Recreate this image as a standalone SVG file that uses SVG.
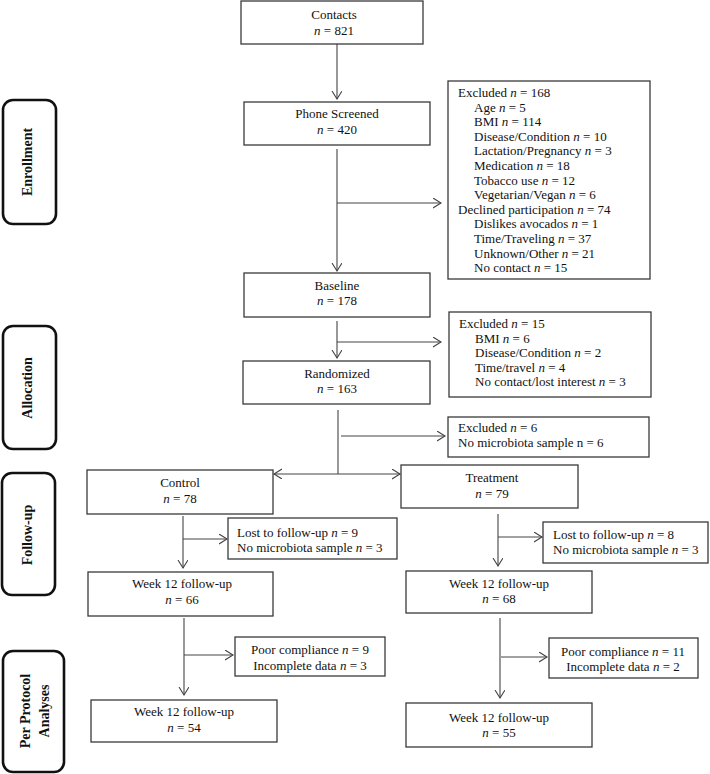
<svg xmlns="http://www.w3.org/2000/svg" width="710" height="774" viewBox="0 0 710 774">
<style>
.box{fill:#fff;stroke:#3a3a3a;stroke-width:1.3}
.lab{fill:#fff;stroke:#111;stroke-width:2.6}
text{font-family:"Liberation Serif","Times New Roman",serif;font-size:13px;fill:#111}
.c{text-anchor:middle}
.b{font-weight:bold;font-size:14px;text-anchor:middle}
.i{font-style:italic}
#connectors line{stroke:#444;stroke-width:1.1;fill:none}
.a{marker-end:url(#arr)}
.d{marker-start:url(#arr);marker-end:url(#arr)}
</style>
<defs>
<marker id="arr" markerUnits="userSpaceOnUse" markerWidth="10" markerHeight="12" refX="8" refY="5" orient="auto-start-reverse">
<path d="M0,0 L8,5 L0,10" fill="none" stroke="#444" stroke-width="1.1"/>
</marker>
</defs>
<rect width="710" height="774" fill="#fff"/>

<g id="connectors">
<line class="a" x1="337" y1="44" x2="337" y2="99"/>
<line class="a" x1="337" y1="149" x2="337" y2="271"/>
<line class="a" x1="337" y1="203" x2="441" y2="203"/>
<line class="a" x1="337" y1="321" x2="337" y2="358"/>
<line class="a" x1="337" y1="342" x2="441" y2="342"/>
<line x1="338" y1="410" x2="338" y2="474"/>
<line class="a" x1="341" y1="436" x2="445" y2="436"/>
<line class="d" x1="274" y1="474" x2="400" y2="474"/>
<line class="a" x1="183" y1="516" x2="183" y2="568"/>
<line class="a" x1="183" y1="539" x2="227" y2="539"/>
<line class="a" x1="498" y1="514" x2="498" y2="566"/>
<line class="a" x1="498" y1="537" x2="542" y2="537"/>
<line class="a" x1="184" y1="618" x2="184" y2="695"/>
<line class="a" x1="184" y1="655" x2="233" y2="655"/>
<line class="a" x1="500" y1="618" x2="500" y2="698"/>
<line class="a" x1="501" y1="657" x2="547" y2="657"/>
</g>

<g id="lab-enrollment"><rect class="lab" x="3" y="100" width="53" height="124" rx="10"/><text class="b" transform="translate(27,162) rotate(-90)" y="5">Enrollment</text></g>
<g id="lab-allocation"><rect class="lab" x="3" y="326" width="53" height="123" rx="10"/><text class="b" transform="translate(27,388) rotate(-90)" y="5">Allocation</text></g>
<g id="lab-followup"><rect class="lab" x="2" y="473" width="53" height="122" rx="10"/><text class="b" transform="translate(27,535) rotate(-90)" y="5">Follow-up</text></g>
<g id="lab-pp"><rect class="lab" x="3" y="651" width="61" height="121" rx="10"/><text class="b" transform="translate(25,711) rotate(-90)" y="5">Per Protocol</text><text class="b" transform="translate(44,711) rotate(-90)" y="5">Analyses</text></g>

<g id="contacts"><rect class="box" x="241" y="1" width="182" height="43"/><text class="c" x="334" y="19">Contacts</text><text class="c" x="334" y="35"><tspan class="i">n</tspan> = 821</text></g>
<g id="phone"><rect class="box" x="244" y="102" width="186" height="43"/><text class="c" x="337" y="118">Phone Screened</text><text class="c" x="337" y="134"><tspan class="i">n</tspan> = 420</text></g>
<g id="excl168"><rect class="box" x="448" y="81" width="202" height="198"/>
<text x="458" y="97">Excluded <tspan class="i">n</tspan> = 168</text>
<text x="474" y="111.6">Age <tspan class="i">n</tspan> = 5</text>
<text x="474" y="126.2">BMI <tspan class="i">n</tspan> = 114</text>
<text x="474" y="140.8">Disease/Condition <tspan class="i">n</tspan> = 10</text>
<text x="474" y="155.4">Lactation/Pregnancy <tspan class="i">n</tspan> = 3</text>
<text x="474" y="170">Medication <tspan class="i">n</tspan> = 18</text>
<text x="474" y="184.6">Tobacco use <tspan class="i">n</tspan> = 12</text>
<text x="474" y="199.2">Vegetarian/Vegan <tspan class="i">n</tspan> = 6</text>
<text x="458" y="213.8">Declined participation <tspan class="i">n</tspan> = 74</text>
<text x="474" y="228.4">Dislikes avocados <tspan class="i">n</tspan> = 1</text>
<text x="474" y="243">Time/Traveling <tspan class="i">n</tspan> = 37</text>
<text x="474" y="257.6">Unknown/Other <tspan class="i">n</tspan> = 21</text>
<text x="474" y="272.2">No contact <tspan class="i">n</tspan> = 15</text>
</g>
<g id="baseline"><rect class="box" x="244" y="273" width="186" height="44"/><text class="c" x="337" y="290">Baseline</text><text class="c" x="337" y="305"><tspan class="i">n</tspan> = 178</text></g>
<g id="excl15"><rect class="box" x="449" y="312" width="202" height="85"/>
<text x="459" y="328">Excluded <tspan class="i">n</tspan> = 15</text>
<text x="475" y="342.5">BMI <tspan class="i">n</tspan> = 6</text>
<text x="475" y="357">Disease/Condition <tspan class="i">n</tspan> = 2</text>
<text x="475" y="371.5">Time/travel <tspan class="i">n</tspan> = 4</text>
<text x="475" y="386">No contact/lost interest <tspan class="i">n</tspan> = 3</text>
</g>
<g id="randomized"><rect class="box" x="243" y="361" width="187" height="43"/><text class="c" x="337" y="378">Randomized</text><text class="c" x="337" y="393"><tspan class="i">n</tspan> = 163</text></g>
<g id="excl6"><rect class="box" x="448" y="417" width="201" height="40"/>
<text x="458" y="432">Excluded <tspan class="i">n</tspan> = 6</text>
<text x="458" y="447">No microbiota sample n = 6</text>
</g>
<g id="control"><rect class="box" x="87" y="470" width="186" height="44"/><text class="c" x="180" y="487">Control</text><text class="c" x="180" y="503"><tspan class="i">n</tspan> = 78</text></g>
<g id="treatment"><rect class="box" x="401" y="465" width="177" height="43"/><text class="c" x="492" y="482">Treatment</text><text class="c" x="492" y="498"><tspan class="i">n</tspan> = 79</text></g>
<g id="lost-c"><rect class="box" x="228" y="518" width="169" height="41"/><text x="237" y="537">Lost to follow-up <tspan class="i">n</tspan> = 9</text><text x="237" y="552">No microbiota sample <tspan class="i">n</tspan> = 3</text></g>
<g id="lost-t"><rect class="box" x="543" y="522" width="165" height="41"/><text x="553" y="538.5">Lost to follow-up <tspan class="i">n</tspan> = 8</text><text x="553" y="553.5">No microbiota sample <tspan class="i">n</tspan> = 3</text></g>
<g id="w12-c"><rect class="box" x="88" y="572" width="185" height="44"/><text class="c" x="182" y="588">Week 12 follow-up</text><text class="c" x="182" y="603.5"><tspan class="i">n</tspan> = 66</text></g>
<g id="w12-t"><rect class="box" x="406" y="571" width="186" height="42"/><text class="c" x="499" y="588">Week 12 follow-up</text><text class="c" x="499" y="603"><tspan class="i">n</tspan> = 68</text></g>
<g id="poor-c"><rect class="box" x="235" y="637" width="150" height="39"/><text class="c" x="310" y="654">Poor compliance <tspan class="i">n</tspan> = 9</text><text class="c" x="310" y="669.5">Incomplete data <tspan class="i">n</tspan> = 3</text></g>
<g id="poor-t"><rect class="box" x="549" y="638" width="149" height="40"/><text class="c" x="623" y="655.5">Poor compliance <tspan class="i">n</tspan> = 11</text><text class="c" x="623" y="671">Incomplete data <tspan class="i">n</tspan> = 2</text></g>
<g id="final-c"><rect class="box" x="91" y="700" width="186" height="42"/><text class="c" x="184" y="716">Week 12 follow-up</text><text class="c" x="184" y="732"><tspan class="i">n</tspan> = 54</text></g>
<g id="final-t"><rect class="box" x="406" y="703" width="186" height="44"/><text class="c" x="499" y="721.5">Week 12 follow-up</text><text class="c" x="499" y="737"><tspan class="i">n</tspan> = 55</text></g>
</svg>
